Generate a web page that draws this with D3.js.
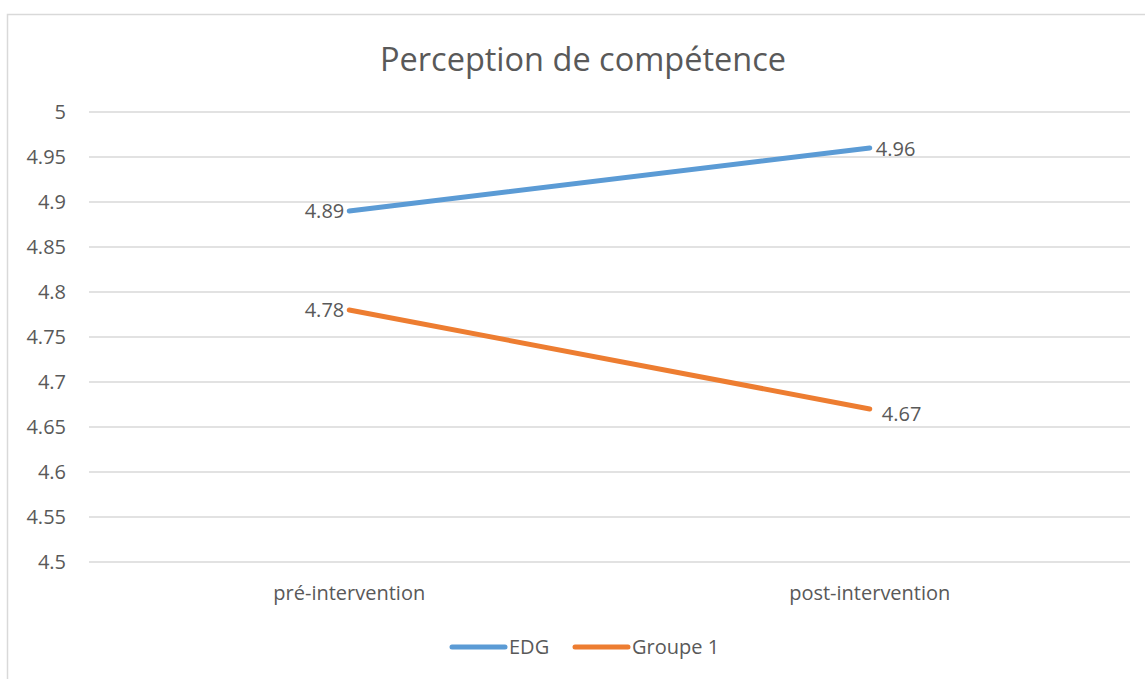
<!DOCTYPE html>
<meta charset="utf-8">
<style>
    body { margin: 0; background: #fff; }
    text { font-family: "Open Sans", "Noto Sans", sans-serif; fill: #595959; }
</style>
<body>
    <script src="https://d3js.org/d3.v7.min.js"></script>
    <svg width="1145" height="679"></svg>
    <script>
        var categories = ["pré-intervention", "post-intervention"];
        var seriesNames = ["EDG", "Groupe 1"];
        var edgValues = [4.89, 4.96];
        var groupe1Values = [4.78, 4.67];
        var yTicks = [4.5, 4.55, 4.6, 4.65, 4.7, 4.75, 4.8, 4.85, 4.9, 4.95, 5];
        var colors = ["#5B9BD5", "#ED7D31"];

        var svg = d3.select("svg");

        // chart frame
        svg.append("rect")
            .attr("x", 7.5).attr("y", 14.5)
            .attr("width", 1150).attr("height", 700)
            .attr("fill", "none")
            .attr("stroke", "#d9d9d9")
            .attr("stroke-width", 1.5);

        var plotLeft = 89, plotRight = 1130, plotTop = 112, plotBottom = 562;

        var xScale = d3.scaleBand().domain(categories).range([plotLeft, plotRight]),
            yScale = d3.scaleLinear().domain([4.5, 5]).range([plotBottom, plotTop]);

        svg.append("text")
            .attr("x", 583).attr("y", 71)
            .attr("text-anchor", "middle")
            .style("font-size", "32.5px")
            .text("Perception de compétence");

        // gridlines
        svg.append("g")
            .selectAll("line")
            .data(yTicks)
            .enter().append("line")
            .attr("x1", plotLeft).attr("x2", plotRight)
            .attr("y1", d => yScale(d)).attr("y2", d => yScale(d))
            .attr("stroke", "#d9d9d9")
            .attr("stroke-width", 1.5);

        // y axis labels
        var yAxis = svg.append("g")
            .attr("transform", "translate(" + plotLeft + ",0)")
            .call(d3.axisLeft(yScale).tickValues(yTicks).tickSize(0).tickPadding(23).tickFormat(d => String(+d.toFixed(2))));
        yAxis.select(".domain").remove();
        yAxis.selectAll("text").style("font-size", "20px").attr("fill", "#595959");

        // x axis labels
        var xAxis = svg.append("g")
            .attr("transform", "translate(0," + plotBottom + ")")
            .call(d3.axisBottom(xScale).tickSize(0).tickPadding(24));
        xAxis.select(".domain").remove();
        xAxis.selectAll("text").style("font-size", "20px").attr("fill", "#595959");

        var series = [edgValues, groupe1Values];
        var line = d3.line()
            .x((d, i) => xScale(categories[i]) + xScale.bandwidth() / 2)
            .y(d => yScale(d));

        series.forEach(function(vals, s) {
            svg.append("path")
                .datum(vals)
                .attr("d", line)
                .attr("fill", "none")
                .attr("stroke", colors[s])
                .attr("stroke-width", 5)
                .attr("stroke-linecap", "round");
        });

        // data labels: first point on the left, second on the right
        var labelOffsets = [[[-5, 7], [6, 8]], [[-5, 7], [12, 12]]];
        series.forEach(function(vals, s) {
            svg.append("g")
                .selectAll("text")
                .data(vals)
                .enter().append("text")
                .attr("x", (d, i) => xScale(categories[i]) + xScale.bandwidth() / 2 + labelOffsets[s][i][0])
                .attr("y", (d, i) => yScale(d) + labelOffsets[s][i][1])
                .attr("text-anchor", (d, i) => i === 0 ? "end" : "start")
                .style("font-size", "20px")
                .attr("fill", "#404040")
                .text(d => d);
        });

        // legend
        var legendX = [452, 575];
        seriesNames.forEach(function(name, s) {
            var g = svg.append("g").attr("transform", "translate(" + legendX[s] + ",647)");
            g.append("line")
                .attr("x1", 0).attr("x2", 53)
                .attr("stroke", colors[s])
                .attr("stroke-width", 5)
                .attr("stroke-linecap", "round");
            g.append("text")
                .attr("x", 57).attr("y", 7)
                .style("font-size", "20px")
                .text(name);
        });
    </script>
</body>
